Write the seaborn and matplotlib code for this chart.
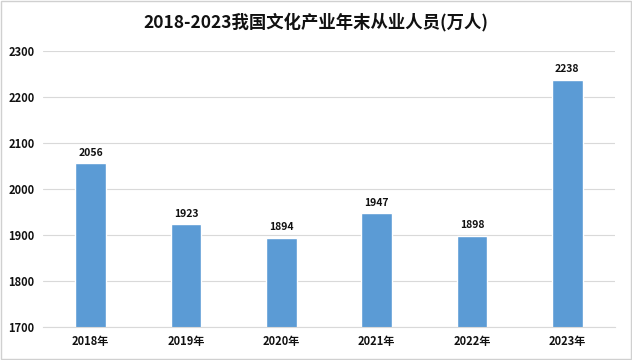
import pandas as pd
import numpy as np
import seaborn as sns
import matplotlib.pyplot as plt
from matplotlib.patches import Rectangle

years = ['2018年', '2019年', '2020年', '2021年', '2022年', '2023年']
workers = [2056, 1923, 1894, 1947, 1898, 2238]
yticks = [1700, 1800, 1900, 2000, 2100, 2200, 2300]

sns.set_theme(style='white')
plt.rcParams['font.family'] = ['Noto Sans CJK SC', 'DejaVu Sans']

df = pd.DataFrame({'year': years, 'workers': workers})

fig = plt.figure(figsize=(6.32, 3.6), dpi=100)
ax = fig.add_axes([0.068, 0.092, 0.905, 0.766])

sns.barplot(data=df, x='year', y='workers', color='#5B9BD5', width=0.32,
            saturation=1, ax=ax, zorder=2)

ax.set_ylim(1700, 2300)
ax.set_yticks(yticks)
ax.yaxis.grid(True, color='#d9d9d9', linewidth=0.8, zorder=0)
ax.set_axisbelow(True)
for s in ['top', 'right', 'left']:
    ax.spines[s].set_visible(False)
ax.spines['bottom'].set_color('#d9d9d9')
ax.spines['bottom'].set_linewidth(0.8)
ax.set_xlabel('')
ax.set_ylabel('')
ax.tick_params(axis='both', length=0, labelsize=8, pad=6, labelcolor='#111111')
for lbl in ax.get_xticklabels() + ax.get_yticklabels():
    lbl.set_fontweight('bold')

for i, v in enumerate(workers):
    ax.text(i, v + 12, str(v), ha='center', va='bottom', fontsize=7.5,
            fontweight='bold', color='#111111')

fig.suptitle('2018-2023我国文化产业年末从业人员(万人)', fontsize=12.5,
             fontweight='bold', y=0.965, color='#111111')

fig.patches.append(Rectangle((0.002, 0.003), 0.996, 0.994, transform=fig.transFigure,
                             fill=False, edgecolor='#d0d0d0', linewidth=1))

plt.savefig('out.png', dpi=100)
